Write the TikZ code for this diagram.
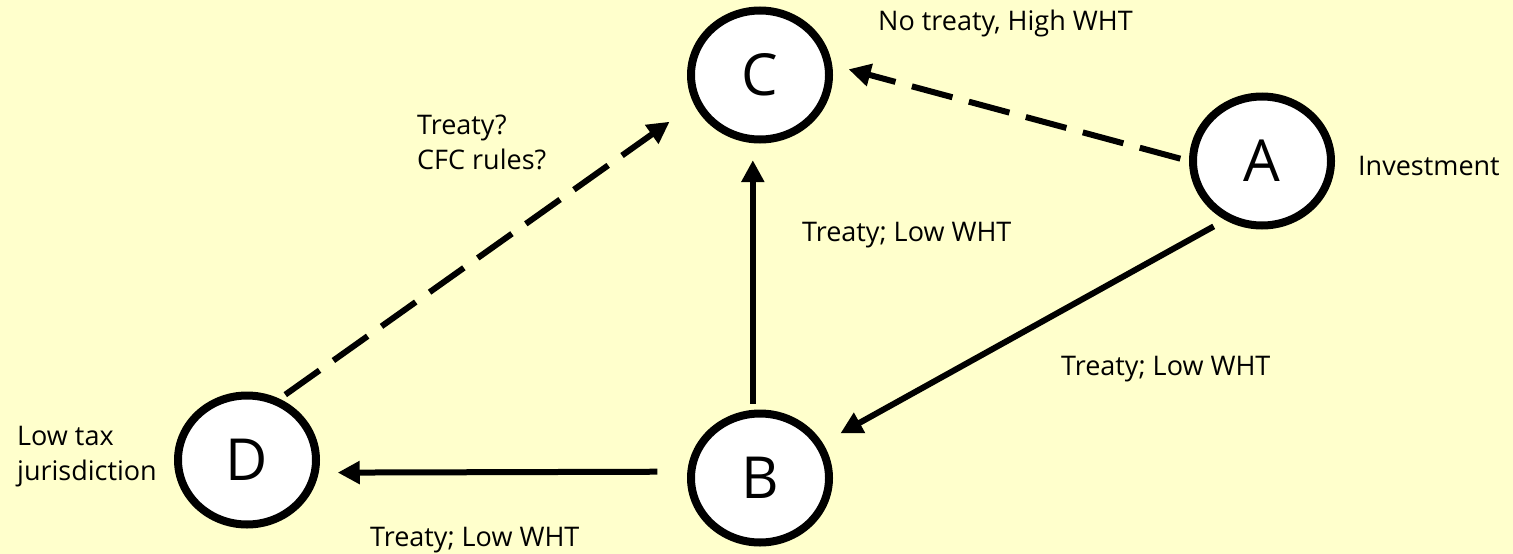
\documentclass[tikz,border=0pt]{standalone}
\usepackage{fontspec}
\setmainfont{Open Sans}
\usetikzlibrary{arrows.meta,shapes.geometric}
\definecolor{bgyellow}{HTML}{FFFFCC}
\begin{document}
\begin{tikzpicture}[x=1pt,y=-1pt,
  country/.style={ellipse, draw, line width=8pt, fill=white, minimum width=138pt, minimum height=129pt, inner sep=0pt, font=\fontsize{58}{60}\selectfont},
  flow/.style={line width=6pt, -{Triangle[length=22pt,width=22pt]}},
  maybe/.style={flow, dash pattern=on 42pt off 17pt},
  note/.style={anchor=base west, inner sep=0pt, align=left, font=\fontsize{27}{35}\selectfont}]
\fill[bgyellow] (0,0) rectangle (1513,554);
\useasboundingbox (0,0) rectangle (1513,554);
% countries
\node[country] (C) at (760,75){C};
\node[country] (A) at (1262,161){A};
\node[country] (B) at (760,478){B};
\node[country] (D) at (247,460){D};
% texts
\node[note] (notreaty) at (878,30){No treaty, High WHT};
\node[note] (invest) at (1358,175){Investment};
\node[note] (cfc) at (417,169){Treaty?\\CFC rules?};
\node[note] (lowBC) at (802,241){Treaty; Low WHT};
\node[note] (lowAB) at (1061,375){Treaty; Low WHT};
\node[note] (lowBD) at (370,546){Treaty; Low WHT};
\node[note] (lowtax) at (17,480){Low tax\\jurisdiction};
% flows
\draw[maybe, shorten <=9pt, shorten >=17pt](A.180) -- (C.8);
\draw[flow, shorten <=13pt, shorten >=20pt](A.238) -- (B.29);
\draw[flow, shorten <=6pt, shorten >=17pt](B.96) -- (C.264);
\draw[flow, shorten <=30pt, shorten >=19pt](B.175) -- (D.350);
\draw[maybe, shorten <=7pt, shorten >=30pt](D.62) -- (C.204);
\end{tikzpicture}
\end{document}
